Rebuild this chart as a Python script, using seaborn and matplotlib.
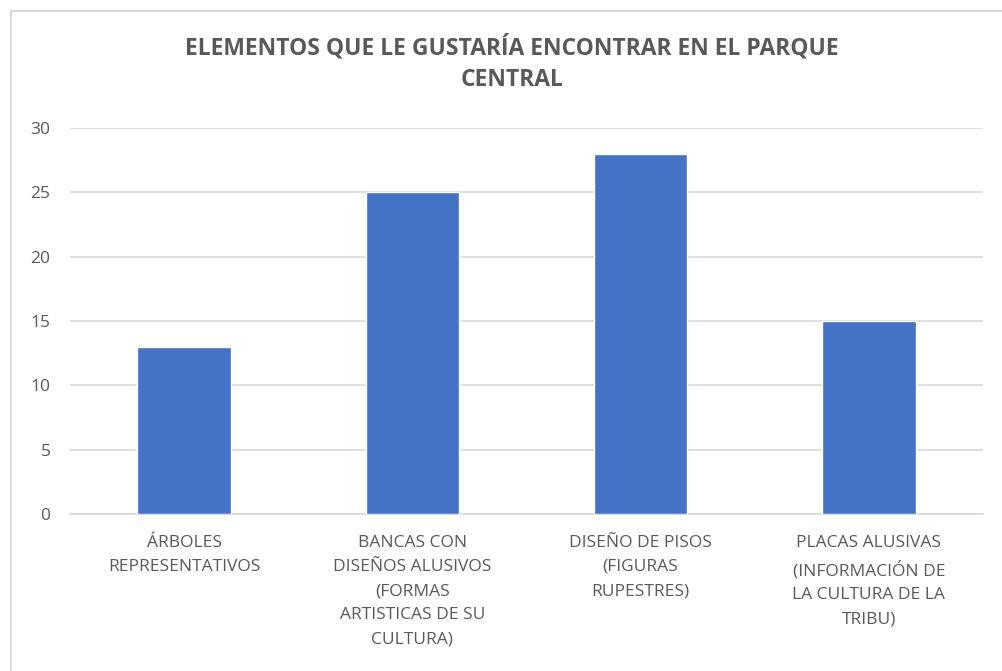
import matplotlib
matplotlib.use("Agg")
import matplotlib.pyplot as plt
import matplotlib.patches as mpatches
import seaborn as sns
import pandas as pd

# chart data
categories = [
    "ÁRBOLES\nREPRESENTATIVOS",
    "BANCAS CON\nDISEÑOS ALUSIVOS\n(FORMAS\nARTISTICAS DE SU\nCULTURA)",
    "DISEÑO DE PISOS\n(FIGURAS\nRUPESTRES)",
    "PLACAS ALUSIVAS\n(INFORMACIÓN DE\nLA CULTURA DE LA\nTRIBU)",
]
values = [13, 25, 28, 15]
yticks = [0, 5, 10, 15, 20, 25, 30]
title = "ELEMENTOS QUE LE GUSTARÍA ENCONTRAR EN EL PARQUE\nCENTRAL"

df = pd.DataFrame({"elemento": categories, "cantidad": values})

sns.set_style("white")
plt.rcParams["font.family"] = ["Open Sans", "DejaVu Sans"]

fig = plt.figure(figsize=(10.02, 6.71), dpi=100)
ax = fig.add_axes([0.0699, 0.234, 0.911, 0.575])

sns.barplot(data=df, x="elemento", y="cantidad", color="#4472C4",
            saturation=1, width=0.41, ax=ax, zorder=3)

ax.set_ylim(0, 30)
ax.set_yticks(yticks)
ax.grid(axis="y", color="#D9D9D9", linewidth=1.2, zorder=0)
for s in ["top", "right", "left"]:
    ax.spines[s].set_visible(False)
ax.spines["bottom"].set_color("#D9D9D9")
ax.spines["bottom"].set_linewidth(1.2)
ax.tick_params(axis="y", length=0, colors="#595959", labelsize=12.5, pad=14)
ax.tick_params(axis="x", length=0, colors="#595959", labelsize=12.5, pad=15)
for lbl in ax.get_xticklabels():
    lbl.set_linespacing(1.68)
ax.set_xlabel("")
ax.set_ylabel("")

fig.text(0.511, 0.905, title, ha="center", va="center", fontsize=16.5,
         fontweight="bold", color="#595959", linespacing=1.4)

# chart border
fig.patches.append(mpatches.Rectangle((11 / 1002, -0.1), 1.2, 1.1 - 11 / 671,
                                      transform=fig.transFigure, fill=False,
                                      edgecolor="#D9D9D9", linewidth=1.5))

fig.savefig("out.png", dpi=100)
